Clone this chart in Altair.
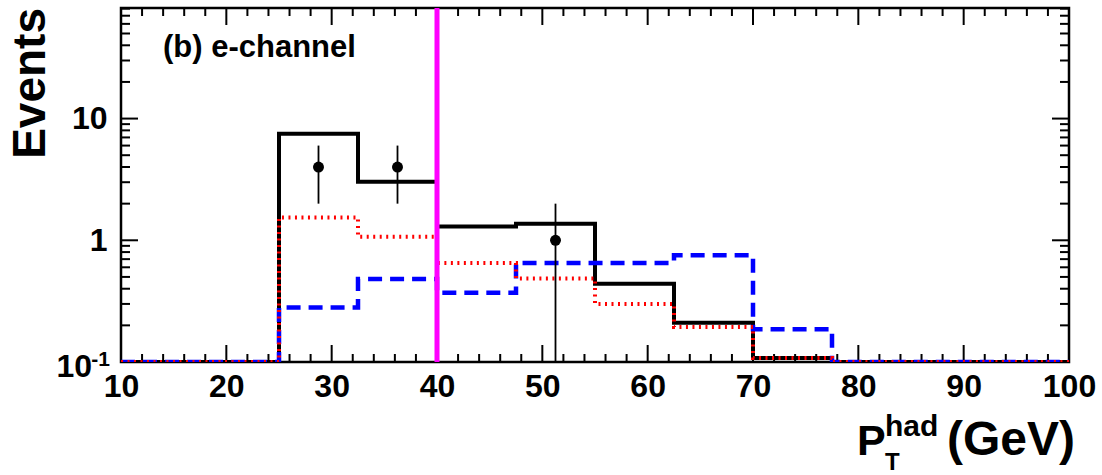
import altair as alt
import pandas as pd

# ---------------- data ----------------
bin_edges = [10, 17.5, 25, 32.5, 40, 47.5, 55, 62.5, 70, 77.5, 85, 92.5, 100]
total_mc = [0, 0, 7.5, 3.03, 1.30, 1.37, 0.44, 0.21, 0.108, 0, 0, 0]         # black solid
signal_mc = [0, 0, 1.54, 1.07, 0.65, 0.485, 0.30, 0.194, 0.108, 0, 0, 0]     # red dotted
other_mc = [0, 0, 0.28, 0.48, 0.37, 0.65, 0.65, 0.755, 0.186, 0, 0, 0]       # blue dashed

data_x = [28.75, 36.25, 51.25]
data_y = [4, 4, 1]
data_err = [2, 2, 1]

cut_value = 40

x_domain = [10, 100]
y_domain = [0.1, 81]

x_label_values = [10, 20, 30, 40, 50, 60, 70, 80, 90, 100]
x_major_ticks = [20, 30, 40, 50, 60, 70, 80, 90]
x_minor_ticks = [12, 14, 16, 18, 22, 24, 26, 28, 32, 34, 36, 38, 42, 44, 46, 48,
                 52, 54, 56, 58, 62, 64, 66, 68, 72, 74, 76, 78, 82, 84, 86, 88,
                 92, 94, 96, 98]
y_label_values = [1, 10]
y_major_ticks = [1, 10]
y_minor_ticks = [0.2, 0.3, 0.4, 0.5, 0.6, 0.7, 0.8, 0.9,
                 2, 3, 4, 5, 6, 7, 8, 9,
                 20, 30, 40, 50, 60, 70, 80]

# ---------------- layout ----------------
W, H = 948, 354
FONT = "Liberation Sans"
floor = y_domain[0]


def step_frame(vals):
    rows = [{"x": bin_edges[i], "y": max(v, floor)} for i, v in enumerate(vals)]
    rows.append({"x": bin_edges[-1], "y": max(vals[-1], floor)})
    return pd.DataFrame(rows)


xs = alt.Scale(domain=x_domain, nice=False, zero=False)
ys = alt.Scale(type="log", domain=y_domain, nice=False, clamp=True)

x_enc = alt.X("x:Q", scale=xs,
              axis=alt.Axis(values=x_label_values, ticks=False, domain=False, grid=False,
                            labelFont=FONT, labelFontWeight="bold", labelFontSize=32,
                            labelColor="black", labelPadding=9, title=None,
                            labelFlush=False, labelOverlap=False))
y_enc = alt.Y("y:Q", scale=ys,
              axis=alt.Axis(values=y_label_values, ticks=False, domain=False, grid=False,
                            labelFont=FONT, labelFontWeight="bold", labelFontSize=32,
                            labelColor="black", labelPadding=14, title=None,
                            labelFlush=False, labelOverlap=False, format="d"))


def hist_layer(vals, color, width, dash=None):
    kw = dict(interpolate="step-after", color=color, strokeWidth=width, clip=True)
    if dash is not None:
        kw["strokeDash"] = dash
    return alt.Chart(step_frame(vals)).mark_line(**kw).encode(x=x_enc, y=y_enc)


black = hist_layer(total_mc, "black", 4)
blue = hist_layer(other_mc, "#0000ff", 4.5, [14, 8])
red = hist_layer(signal_mc, "#ff0000", 4, [2, 4.5])

pts = pd.DataFrame({"x": data_x, "y": data_y, "err": data_err})
pts["lo"] = [max(y - e, floor) for y, e in zip(data_y, data_err)]
pts["hi"] = [y + e for y, e in zip(data_y, data_err)]

err_bars = alt.Chart(pts).mark_rule(color="black", strokeWidth=1.8).encode(
    x=alt.X("x:Q", scale=xs), y=alt.Y("lo:Q", scale=ys), y2="hi:Q")
dots = alt.Chart(pts).mark_circle(color="black", opacity=1, size=120).encode(
    x=alt.X("x:Q", scale=xs), y=alt.Y("y:Q", scale=ys))

cut_line = alt.Chart(pd.DataFrame({"x": [cut_value]})).mark_rule(
    color="#ff00ff", strokeWidth=5).encode(
    x=alt.X("x:Q", scale=xs), y=alt.value(0), y2=alt.value(H))


# inward ticks on all four sides
def xticks(vals, length):
    df = pd.DataFrame({"x": vals})
    base = alt.Chart(df).mark_rule(color="black", strokeWidth=2)
    bottom = base.encode(x=alt.X("x:Q", scale=xs), y=alt.value(H), y2=alt.value(H - length))
    top = base.encode(x=alt.X("x:Q", scale=xs), y=alt.value(0), y2=alt.value(length))
    return [bottom, top]


def yticks(vals, length):
    df = pd.DataFrame({"y": vals})
    base = alt.Chart(df).mark_rule(color="black", strokeWidth=2)
    left = base.encode(y=alt.Y("y:Q", scale=ys), x=alt.value(0), x2=alt.value(length))
    right = base.encode(y=alt.Y("y:Q", scale=ys), x=alt.value(W), x2=alt.value(W - length))
    return [left, right]


tick_layers = (xticks(x_major_ticks, 17) + xticks(x_minor_ticks, 8)
               + yticks(y_major_ticks, 17) + yticks(y_minor_ticks, 9))

one = pd.DataFrame({"k": [0]})

# 10^-1 label
lab_10 = alt.Chart(one).mark_text(text="10", font=FONT, fontWeight="bold", fontSize=32,
                                  align="right", baseline="middle", dy=5).encode(
    x=alt.value(-29), y=alt.datum(y_domain[0], scale=ys))
lab_m1 = alt.Chart(one).mark_text(text="-1", font=FONT, fontWeight="bold", fontSize=21,
                                  align="right", baseline="middle", dy=-2).encode(
    x=alt.value(-11), y=alt.datum(y_domain[0], scale=ys))

# y title
y_title = alt.Chart(one).mark_text(text="Events", font=FONT, fontWeight="bold", fontSize=46,
                                   angle=270, align="right", baseline="alphabetic").encode(
    x=alt.value(-76), y=alt.value(0))


# x title P_T^had (GeV)
def txt(t, size, xpx, ypx):
    return alt.Chart(one).mark_text(text=t, font=FONT, fontWeight="bold", fontSize=size,
                                    align="left", baseline="alphabetic").encode(
        x=alt.value(xpx), y=alt.value(ypx))


x_title = [txt("P", 43, 736, 447), txt("T", 24, 764, 462), txt("had", 30, 764, 428),
           txt("(GeV)", 48, 826, 447)]

label_b = txt("(b) e-channel", 31, 42, 49)

chart = alt.layer(
    *tick_layers, black, blue, red, err_bars, dots, cut_line,
    lab_10, lab_m1, y_title, *x_title, label_b
).properties(
    width=W, height=H,
    autosize=alt.AutoSizeParams(type="none"),
    padding={"left": 121, "top": 8, "right": 33, "bottom": 113},
    background="white",
).configure_view(stroke="black", strokeWidth=2.5)

chart.save("out.html", embed_options={"renderer": "svg", "actions": False})
